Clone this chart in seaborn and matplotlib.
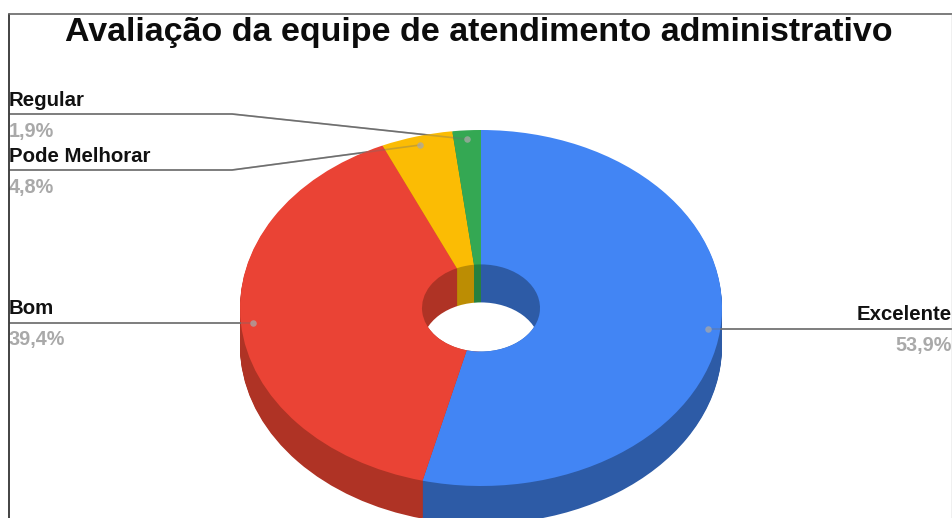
import numpy as np
import matplotlib
matplotlib.use('Agg')
import matplotlib.pyplot as plt
from matplotlib.patches import Ellipse
import seaborn as sns

categories = ['Excelente', 'Bom', 'Pode Melhorar', 'Regular']
values = [53.9, 39.4, 4.8, 1.9]
value_labels = ['53,9%', '39,4%', '4,8%', '1,9%']
title = 'Avaliação da equipe de atendimento administrativo'

top_colors = sns.color_palette(['#4285F4', '#EA4335', '#FBBC04', '#34A853'])
side_colors = sns.color_palette(['#2D5BA6', '#AF3325', '#BC8D03', '#27803F'])

sns.set_theme(style='white')
plt.rcParams['font.family'] = ['Liberation Sans', 'DejaVu Sans']

W, H = 953, 518
CX, CY = 481, 308      # centre of the top face, px
RX, RY = 241, 178      # outer ellipse, px
HOLE = 59 / 241        # hole radius as fraction of pie radius
DEPTH = 38             # extrusion, px


def px_x(x):
    return (x - CX) / RX


def px_y(y):
    return (CY - y) / RY


fig = plt.figure(figsize=(W / 100, H / 100), dpi=100)
ax = fig.add_axes([0, 0, 1, 1])
pie_args = dict(startangle=90, counterclock=False)

# outer wall, stacked from the bottom up
for d in range(DEPTH, 0, -1):
    ax.pie(values, colors=side_colors, center=(0, -d / RY), radius=1,
           wedgeprops=dict(linewidth=0, zorder=1), **pie_args)

# inner wall, each level drawn over the one above it so seams run straight down
hole_clip = Ellipse((0, 0), 2 * HOLE, 2 * HOLE, transform=ax.transData)
for d in range(0, DEPTH + 1):
    wedges, _ = ax.pie(values, colors=side_colors, center=(0, -d / RY), radius=HOLE,
                       wedgeprops=dict(linewidth=0, zorder=2), **pie_args)
    for w in wedges:
        w.set_clip_path(hole_clip)
see_through = Ellipse((0, -DEPTH / RY), 2 * HOLE, 2 * HOLE, fc='white', ec='none', zorder=2.2)
ax.add_patch(see_through)
see_through.set_clip_path(hole_clip)

# top face
ax.pie(values, colors=top_colors, radius=1,
       wedgeprops=dict(width=1 - HOLE, linewidth=0, zorder=3), **pie_args)

# leader lines start at a dot placed on each slice's mid angle
fracs = np.cumsum(values) - np.array(values) / 2
angles = np.deg2rad(90 - fracs / sum(values) * 360)
dot_x = 0.95 * np.cos(angles)
dot_y = 0.95 * np.sin(angles)

leader_ends = [(952, 328), (10, 323), (10, 170), (10, 114)]
elbows = [None, None, 232, 232]
line_color = '#6f6f6f'
for i in range(len(categories)):
    xs = [dot_x[i]]
    ys = [dot_y[i]]
    ex, ey = leader_ends[i]
    if elbows[i] is not None:
        xs.append(px_x(elbows[i]))
        ys.append(px_y(ey))
    xs.append(px_x(ex))
    ys.append(px_y(ey) if elbows[i] is not None else dot_y[i])
    ax.plot(xs, ys, color=line_color, lw=1.2, zorder=2.5, solid_capstyle='butt')
    ax.plot(xs, ys, color=line_color, lw=1.2, alpha=0.35, zorder=4)
ax.scatter(dot_x, dot_y, s=22, color='#a8a8a8', alpha=0.75, linewidths=0, zorder=5)

# labels
name_pos = [(952, 315, 'right'), (9, 309, 'left'), (9, 157, 'left'), (9, 101, 'left')]
value_pos = [(952, 345, 'right'), (9, 340, 'left'), (9, 187, 'left'), (9, 131, 'left')]
for i in range(len(categories)):
    x, y, ha = name_pos[i]
    ax.text(px_x(x), px_y(y), categories[i], ha=ha, va='center', fontsize=14.7,
            fontweight='bold', color='#111111', zorder=6)
    x, y, ha = value_pos[i]
    ax.text(px_x(x), px_y(y), value_labels[i], ha=ha, va='center', fontsize=14.3,
            fontweight='bold', color='#a9a9a9', zorder=6)

ax.text(px_x(479), px_y(33), title, ha='center', va='center', fontsize=24.5,
        fontweight='bold', color='#0c0c0c', zorder=6)

# screenshot border
ax.plot([px_x(9), px_x(9)], [px_y(14), px_y(518)], color='#222222', lw=1.2, zorder=7)
ax.plot([px_x(9), px_x(952.5)], [px_y(14.5), px_y(14.5)], color='#666666', lw=1.2, zorder=7)
ax.plot([px_x(952.5), px_x(952.5)], [px_y(14), px_y(518)], color='#b5b5b5', lw=1.0, zorder=7)

ax.set_aspect('auto')
ax.set_xlim(px_x(0), px_x(W))
ax.set_ylim(px_y(H), px_y(0))
ax.axis('off')

fig.savefig('out.png', dpi=100, facecolor='white')
